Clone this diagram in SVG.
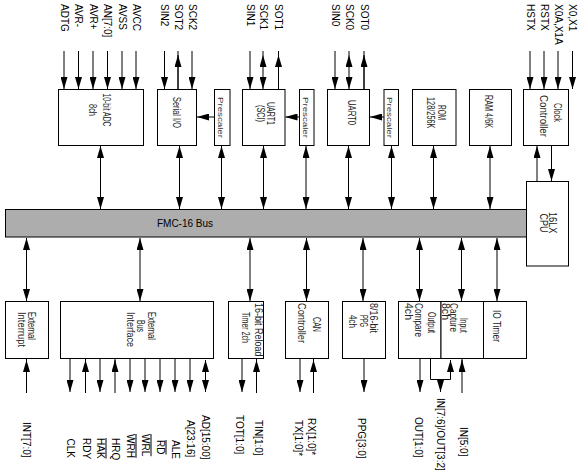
<svg xmlns="http://www.w3.org/2000/svg" width="581" height="475" viewBox="0 0 581 475">
<style>
.box{fill:#fff;stroke:#000;stroke-width:1}
.bus{fill:#adadad;stroke:#000;stroke-width:1}
.c line,.c polyline{stroke:#000;stroke-width:1;fill:none}
.e{marker-end:url(#ah)}
.b{marker-start:url(#ah);marker-end:url(#ah)}
text{font-family:"Liberation Sans",Arial,sans-serif;font-size:10px;fill:#000}
.t{font-size:10.5px;fill:#222}
.p{font-size:8px;fill:#333}
.o{text-decoration:overline}
</style>
<defs>
<marker id="ah" viewBox="0 0 12 7" refX="12" refY="3.5" markerWidth="12" markerHeight="7" markerUnits="userSpaceOnUse" orient="auto-start-reverse">
<path d="M0,0 L12,3.5 L0,7 z" fill="#000"/>
</marker>
</defs>
<rect width="581" height="475" fill="#fff"/>

<g id="bus">
<rect class="bus" x="5.5" y="209.5" width="521" height="27.5"/>
<text x="185" y="227" text-anchor="middle">FMC-16 Bus</text>
</g>

<g id="adc">
<rect class="box" x="58.5" y="89.5" width="85" height="56"/>
<text class="t" transform="translate(102.5,93.5) rotate(90)" textLength="33" lengthAdjust="spacingAndGlyphs">10-bit ADC</text>
<text class="t" transform="translate(89,104) rotate(90)" textLength="12" lengthAdjust="spacingAndGlyphs">8ch</text>
</g>
<g id="serial-io">
<rect class="box" x="157.5" y="89.5" width="39" height="56"/>
<text class="t" transform="translate(173,97) rotate(90)" textLength="31" lengthAdjust="spacingAndGlyphs">Serial I/O</text>
</g>
<g id="prescaler2">
<rect class="box" x="214.5" y="89.5" width="15.5" height="56"/>
<text class="p" transform="translate(217.5,97) rotate(90)" textLength="41" lengthAdjust="spacingAndGlyphs">Prescaler</text>
</g>
<g id="uart1">
<rect class="box" x="242.5" y="89.5" width="42.5" height="56"/>
<text class="t" transform="translate(267,102) rotate(90)" textLength="23" lengthAdjust="spacingAndGlyphs">UART1</text>
<text class="t" transform="translate(256.5,105) rotate(90)" textLength="17" lengthAdjust="spacingAndGlyphs">(SCI)</text>
</g>
<g id="prescaler1">
<rect class="box" x="299.5" y="89.5" width="14.5" height="56"/>
<text class="p" transform="translate(302.5,97) rotate(90)" textLength="41" lengthAdjust="spacingAndGlyphs">Prescaler</text>
</g>
<g id="uart0">
<rect class="box" x="327.5" y="89.5" width="42" height="56"/>
<text class="t" transform="translate(348,100) rotate(90)" textLength="25" lengthAdjust="spacingAndGlyphs">UART0</text>
</g>
<g id="prescaler0">
<rect class="box" x="384" y="89.5" width="14.5" height="56"/>
<text class="p" transform="translate(387,97) rotate(90)" textLength="41" lengthAdjust="spacingAndGlyphs">Prescaler</text>
</g>
<g id="rom">
<rect class="box" x="412.5" y="89.5" width="43.5" height="56"/>
<text class="t" transform="translate(438,105) rotate(90)" textLength="15" lengthAdjust="spacingAndGlyphs">ROM</text>
<text class="t" transform="translate(427,97) rotate(90)" textLength="31.5" lengthAdjust="spacingAndGlyphs">128/256K</text>
</g>
<g id="ram">
<rect class="box" x="469.5" y="89.5" width="42" height="56"/>
<text class="t" transform="translate(485,95) rotate(90)" textLength="33" lengthAdjust="spacingAndGlyphs">RAM 4/6K</text>
</g>
<g id="clock">
<rect class="box" x="523.5" y="89.5" width="45" height="56"/>
<text class="t" transform="translate(554,103) rotate(90)" textLength="19" lengthAdjust="spacingAndGlyphs">Clock</text>
<text class="t" transform="translate(540,95) rotate(90)" textLength="42" lengthAdjust="spacingAndGlyphs">Controller</text>
</g>
<g id="cpu">
<rect class="box" x="526.5" y="181.5" width="42" height="84.5"/>
<text class="t" transform="translate(549,212) rotate(90)" textLength="21.5" lengthAdjust="spacingAndGlyphs">16LX</text>
<text class="t" transform="translate(540,213.5) rotate(90)" textLength="19" lengthAdjust="spacingAndGlyphs">CPU</text>
</g>

<g id="ext-int">
<rect class="box" x="5.5" y="301.5" width="43" height="57"/>
<text class="t" transform="translate(28,312) rotate(90)" textLength="28" lengthAdjust="spacingAndGlyphs">External</text>
<text class="t" transform="translate(18,312) rotate(90)" textLength="35" lengthAdjust="spacingAndGlyphs">Interrupt</text>
</g>
<g id="ext-bus">
<rect class="box" x="60.5" y="301.5" width="153" height="57"/>
<text class="t" transform="translate(148,312) rotate(90)" textLength="28" lengthAdjust="spacingAndGlyphs">External</text>
<text class="t" transform="translate(137,320) rotate(90)" textLength="12" lengthAdjust="spacingAndGlyphs">Bus</text>
<text class="t" transform="translate(127,312) rotate(90)" textLength="35" lengthAdjust="spacingAndGlyphs">Interface</text>
</g>
<g id="reload-timer">
<rect class="box" x="228.5" y="301.5" width="35" height="57"/>
<text class="t" transform="translate(255,303) rotate(90)" textLength="53.5" lengthAdjust="spacingAndGlyphs">16-bit Reload</text>
<text class="t" transform="translate(241.5,312) rotate(90)" textLength="31" lengthAdjust="spacingAndGlyphs">Timer 2ch</text>
</g>
<g id="can">
<rect class="box" x="285.5" y="301.5" width="43" height="57"/>
<text class="t" transform="translate(313,317) rotate(90)" textLength="15" lengthAdjust="spacingAndGlyphs">CAN</text>
<text class="t" transform="translate(298,303) rotate(90)" textLength="40" lengthAdjust="spacingAndGlyphs">Controller</text>
</g>
<g id="ppg">
<rect class="box" x="342.5" y="301.5" width="43" height="57"/>
<text class="t" transform="translate(370,303) rotate(90)" textLength="30" lengthAdjust="spacingAndGlyphs">8/16-bit</text>
<text class="t" transform="translate(360,315) rotate(90)" textLength="12" lengthAdjust="spacingAndGlyphs">PPG</text>
<text class="t" transform="translate(349,315) rotate(90)" textLength="13" lengthAdjust="spacingAndGlyphs">4ch</text>
</g>
<g id="output-compare">
<rect class="box" x="398.5" y="301.5" width="42.5" height="57"/>
<text class="t" transform="translate(428,312) rotate(90)" textLength="21" lengthAdjust="spacingAndGlyphs">Output</text>
<text class="t" transform="translate(415,303) rotate(90)" textLength="34" lengthAdjust="spacingAndGlyphs">Compare</text>
<text class="t" transform="translate(405,303) rotate(90)" textLength="17" lengthAdjust="spacingAndGlyphs">4ch</text>
</g>
<g id="input-capture">
<rect class="box" x="441" y="301.5" width="42.5" height="57"/>
<text class="t" transform="translate(460,318) rotate(90)" textLength="15" lengthAdjust="spacingAndGlyphs">Input</text>
<text class="t" transform="translate(449.5,303) rotate(90)" textLength="29" lengthAdjust="spacingAndGlyphs">Capture</text>
<text class="t" transform="translate(441.5,303) rotate(90)" textLength="17" lengthAdjust="spacingAndGlyphs">8ch</text>
</g>
<g id="io-timer">
<rect class="box" x="483.5" y="301.5" width="43" height="57"/>
<text class="t" transform="translate(493,310) rotate(90)" textLength="32" lengthAdjust="spacingAndGlyphs">IO Timer</text>
</g>

<g id="connectors" class="c">
<line class="e" x1="64" y1="51" x2="64" y2="89"/>
<line class="e" x1="78.5" y1="51" x2="78.5" y2="89"/>
<line class="e" x1="93" y1="51" x2="93" y2="89"/>
<line class="e" x1="107.5" y1="51" x2="107.5" y2="89"/>
<line class="e" x1="122" y1="51" x2="122" y2="89"/>
<line class="e" x1="136" y1="51" x2="136" y2="89"/>
<line class="e" x1="164.5" y1="51" x2="164.5" y2="89"/>
<line x1="178" y1="51" x2="178" y2="89"/><line class="e" x1="178" y1="89" x2="178" y2="55"/>
<line class="e" x1="192" y1="51" x2="192" y2="89"/>
<line class="e" x1="250" y1="51" x2="250" y2="89"/>
<line class="b" x1="263" y1="55" x2="263" y2="89"/><line x1="263" y1="51" x2="263" y2="55"/>
<line x1="278.5" y1="51" x2="278.5" y2="89"/><line class="e" x1="278.5" y1="89" x2="278.5" y2="55"/>
<line class="e" x1="335" y1="51" x2="335" y2="89"/>
<line class="b" x1="349" y1="55" x2="349" y2="89"/><line x1="349" y1="51" x2="349" y2="55"/>
<line x1="364" y1="51" x2="364" y2="89"/><line class="e" x1="364" y1="89" x2="364" y2="55"/>
<line class="e" x1="530" y1="51" x2="530" y2="89"/>
<line class="e" x1="544" y1="51" x2="544" y2="89"/>
<line class="e" x1="558" y1="51" x2="558" y2="89"/>
<line class="e" x1="572.5" y1="51" x2="572.5" y2="89"/>
<line class="e" x1="214.5" y1="117" x2="197" y2="117"/>
<line class="e" x1="299.5" y1="117" x2="285.5" y2="117"/>
<line class="e" x1="384" y1="117" x2="370" y2="117"/>
<line class="b" x1="100.5" y1="146" x2="100.5" y2="209"/>
<line class="b" x1="179.5" y1="146" x2="179.5" y2="209"/>
<line class="b" x1="221.5" y1="146" x2="221.5" y2="209"/>
<line class="b" x1="263.5" y1="146" x2="263.5" y2="209"/>
<line class="b" x1="306" y1="146" x2="306" y2="209"/>
<line class="b" x1="348.5" y1="146" x2="348.5" y2="209"/>
<line class="b" x1="391.5" y1="146" x2="391.5" y2="209"/>
<line class="b" x1="433.5" y1="146" x2="433.5" y2="209"/>
<line class="b" x1="490" y1="146" x2="490" y2="209"/>
<line class="e" x1="537" y1="181" x2="537" y2="146"/>
<line class="e" x1="551.5" y1="146" x2="551.5" y2="181"/>
<line class="b" x1="26.5" y1="238" x2="26.5" y2="301"/>
<line class="b" x1="140" y1="238" x2="140" y2="301"/>
<line class="b" x1="250" y1="238" x2="250" y2="301"/>
<line class="b" x1="306.5" y1="238" x2="306.5" y2="301"/>
<line class="b" x1="363" y1="238" x2="363" y2="301"/>
<line class="b" x1="419.5" y1="238" x2="419.5" y2="301"/>
<line class="b" x1="461.5" y1="238" x2="461.5" y2="301"/>
<line class="b" x1="497" y1="238" x2="497" y2="301"/>
<line x1="26.5" y1="393" x2="26.5" y2="359"/><line class="e" x1="26.5" y1="372" x2="26.5" y2="360"/>
<line class="e" x1="70" y1="359" x2="70" y2="392"/>
<line x1="85.5" y1="393" x2="85.5" y2="359"/><line class="e" x1="85.5" y1="372" x2="85.5" y2="360"/>
<line class="e" x1="100" y1="359" x2="100" y2="392"/>
<line x1="115" y1="393" x2="115" y2="359"/><line class="e" x1="115" y1="372" x2="115" y2="360"/>
<line class="e" x1="130" y1="359" x2="130" y2="392"/>
<line class="e" x1="145" y1="359" x2="145" y2="392"/>
<line class="e" x1="160" y1="359" x2="160" y2="392"/>
<line class="e" x1="175" y1="359" x2="175" y2="392"/>
<line class="e" x1="190" y1="359" x2="190" y2="392"/>
<line class="b" x1="205.5" y1="360" x2="205.5" y2="392"/>
<line class="e" x1="242" y1="359" x2="242" y2="392"/>
<line x1="256.5" y1="393" x2="256.5" y2="359"/><line class="e" x1="256.5" y1="372" x2="256.5" y2="360"/>
<line class="e" x1="300" y1="359" x2="300" y2="392"/>
<line x1="313.5" y1="393" x2="313.5" y2="359"/><line class="e" x1="313.5" y1="372" x2="313.5" y2="360"/>
<line class="e" x1="364" y1="359" x2="364" y2="392"/>
<line class="e" x1="420" y1="359" x2="420" y2="392"/>
<polyline points="430.5,359 430.5,379.5 450.5,379.5 450.5,370"/>
<line class="e" x1="450.5" y1="372" x2="450.5" y2="360"/>
<line class="e" x1="440.5" y1="379.5" x2="440.5" y2="392"/>
<line x1="462" y1="393" x2="462" y2="359"/><line class="e" x1="462" y1="372" x2="462" y2="360"/>
</g>

<g id="pin-labels">
<text transform="translate(60.5,4) rotate(90)">ADTG</text>
<text transform="translate(75,4) rotate(90)">AVR-</text>
<text transform="translate(89.5,4) rotate(90)">AVR+</text>
<text transform="translate(104,4) rotate(90)">AN[7:0]</text>
<text transform="translate(118.5,4) rotate(90)">AVSS</text>
<text transform="translate(132.5,4) rotate(90)">AVCC</text>
<text transform="translate(161,4) rotate(90)">SIN2</text>
<text transform="translate(174.5,4) rotate(90)">SOT2</text>
<text transform="translate(188.5,4) rotate(90)">SCK2</text>
<text transform="translate(246.5,4) rotate(90)">SIN1</text>
<text transform="translate(259.5,4) rotate(90)">SCK1</text>
<text transform="translate(275,4) rotate(90)">SOT1</text>
<text transform="translate(331.5,4) rotate(90)">SIN0</text>
<text transform="translate(345.5,4) rotate(90)">SCK0</text>
<text transform="translate(360.5,4) rotate(90)">SOT0</text>
<text transform="translate(526.5,4) rotate(90)">HSTX</text>
<text transform="translate(540.5,4) rotate(90)">RSTX</text>
<text transform="translate(554.5,4) rotate(90)">X0A,X1A</text>
<text transform="translate(569,4) rotate(90)">X0,X1</text>

<text transform="translate(22.5,422) rotate(90)">INT[7:0]</text>
<text transform="translate(66.5,438.5) rotate(90)">CLK</text>
<text transform="translate(82.5,438) rotate(90)">RDY</text>
<text class="o" transform="translate(96.5,438) rotate(90)">HAK</text>
<text transform="translate(111.5,438) rotate(90)">HRQ</text>
<text class="o" transform="translate(126.5,434) rotate(90)">WRH</text>
<text class="o" transform="translate(141.5,434) rotate(90)">WRL</text>
<text class="o" transform="translate(156.5,440) rotate(90)">RD</text>
<text transform="translate(171.5,440) rotate(90)">ALE</text>
<text transform="translate(186.5,420) rotate(90)">A[23:16]</text>
<text transform="translate(201.5,415) rotate(90)">AD[15:00]</text>
<text transform="translate(236,415) rotate(90)">TOT[1:0]</text>
<text transform="translate(255,420) rotate(90)">TIN[1:0]</text>
<text transform="translate(295,420) rotate(90)">TX[1:0]*</text>
<text transform="translate(308,418) rotate(90)">RX[1:0]*</text>
<text transform="translate(358,418) rotate(90)">PPG[3:0]</text>
<text transform="translate(415,417) rotate(90)">OUT[1:0]</text>
<text transform="translate(437,398) rotate(90)">IN[7:6]/OUT[3:2]</text>
<text transform="translate(460,427) rotate(90)">IN[5:0]</text>
</g>
</svg>
